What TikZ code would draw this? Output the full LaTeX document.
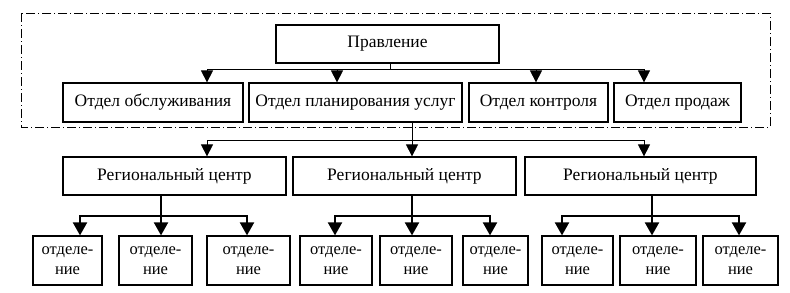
\documentclass[tikz,border=0pt]{standalone}
\usepackage{fontspec}
\setmainfont{Liberation Serif}
\usetikzlibrary{arrows.meta}
\begin{document}
\begin{tikzpicture}[x=1pt,y=-1pt,
  box/.style={draw,line width=1.2pt,inner sep=0pt,font=\fontsize{17.5}{18}\selectfont},
  small/.style={draw,line width=1.2pt,inner sep=0pt,align=center,font=\fontsize{16.5}{20}\selectfont},
  thin/.style={line width=0.8pt,-{Triangle[length=12pt,width=12pt]}},
  thick/.style={line width=2pt,-{Triangle[length=13pt,width=14pt]}},
  frame/.style={line width=0.8pt,dash pattern=on 9pt off 3pt on 1pt off 3pt}]
\useasboundingbox (0,0) rectangle (790,292);
\draw[frame] (21,13) rectangle (770,127);
% top
\node[box,minimum width=223pt,minimum height=38pt] (top) at (387.5,44) {Правление};
\node[box,minimum width=180pt,minimum height=39pt] (d1) at (153,102.5) {Отдел обслуживания};
\node[box,minimum width=213pt,minimum height=39pt] (d2) at (355.5,102.5) {Отдел планирования услуг};
\node[box,minimum width=139pt,minimum height=39pt] (d3) at (538.5,102.5) {Отдел контроля};
\node[box,minimum width=127pt,minimum height=39pt] (d4) at (677.5,102.5) {Отдел продаж};
\coordinate (j1) at (390,69);
\draw[line width=0.8pt] (top.south -| j1) -- (j1);
\draw[thin] (j1) -| (d1.north -| 207,0);
\draw[thin] (j1) -| (d2.north -| 337,0);
\draw[thin] (j1) -| (d3.north -| 536,0);
\draw[thin] (j1) -| (d4.north -| 644,0);
% regional
\node[box,minimum width=223pt,minimum height=38pt] (r1) at (174.5,176) {Региональный центр};
\node[box,minimum width=223pt,minimum height=38pt] (r2) at (404.5,176) {Региональный центр};
\node[box,minimum width=231pt,minimum height=38pt] (r3) at (640.5,176) {Региональный центр};
\coordinate (j2) at (412,140);
\draw[line width=0.8pt] (d2.south -| j2) -- (j2);
\draw[thin] (j2) -| (r1.north -| 207,0);
\draw[thin] (j2) -- (r2.north -| j2);
\draw[thin] (j2) -| (r3.north -| 644,0);
% bottom
\node[small,minimum width=69pt,minimum height=49pt] (a1) at (67.5,260.5) {отделе-\\ние};
\node[small,minimum width=73pt,minimum height=49pt] (a2) at (155.5,260.5) {отделе-\\ние};
\node[small,minimum width=83pt,minimum height=49pt] (a3) at (248.5,260.5) {отделе-\\ние};
\node[small,minimum width=72pt,minimum height=49pt] (b1) at (336,260.5) {отделе-\\ние};
\node[small,minimum width=72pt,minimum height=49pt] (b2) at (416,260.5) {отделе-\\ние};
\node[small,minimum width=65pt,minimum height=49pt] (b3) at (495.5,260.5) {отделе-\\ние};
\node[small,minimum width=71pt,minimum height=49pt] (c1) at (577.5,260.5) {отделе-\\ние};
\node[small,minimum width=76pt,minimum height=49pt] (c2) at (658,260.5) {отделе-\\ние};
\node[small,minimum width=75pt,minimum height=49pt] (c3) at (740.5,260.5) {отделе-\\ние};
\coordinate (k1) at (161,216);
\coordinate (k2) at (412,216);
\coordinate (k3) at (652,216);
\draw[line width=2pt] (r1.south -| k1) -- (k1);
\draw[line width=2pt] (r2.south -| k2) -- (k2);
\draw[line width=2pt] (r3.south -| k3) -- (k3);
\draw[thick] (k1) -| (a1.north -| 80,0);
\draw[thick] (k1) -- (a2.north -| k1);
\draw[thick] (k1) -| (a3.north -| 247,0);
\draw[thick] (k2) -| (b1.north -| 335,0);
\draw[thick] (k2) -- (b2.north -| k2);
\draw[thick] (k2) -| (b3.north -| 490,0);
\draw[thick] (k3) -| (c1.north -| 562,0);
\draw[thick] (k3) -- (c2.north -| k3);
\draw[thick] (k3) -| (c3.north -| 739,0);
\end{tikzpicture}
\end{document}
